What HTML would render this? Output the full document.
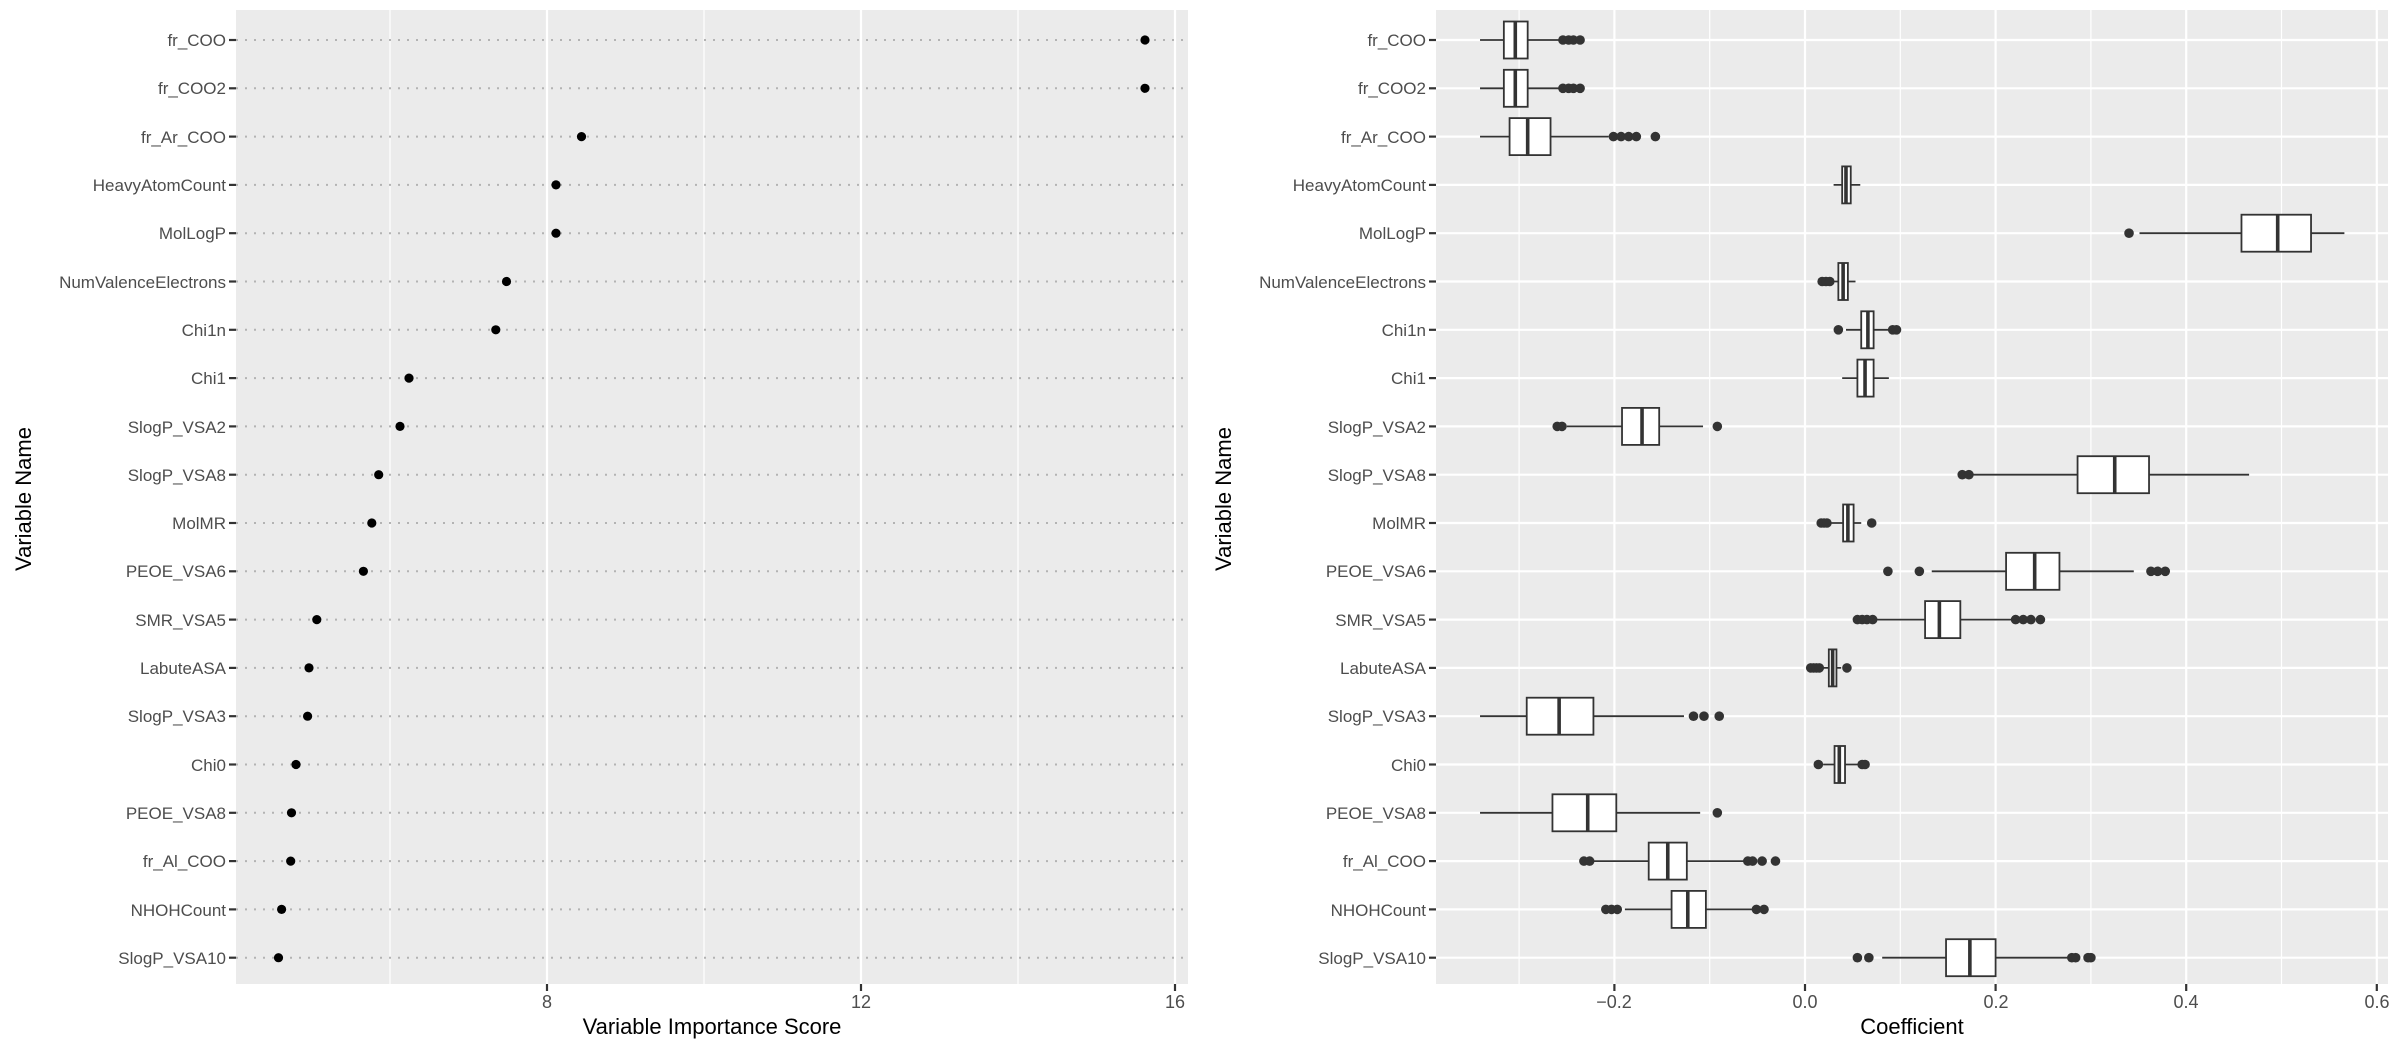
<!DOCTYPE html>
<html><head><meta charset="utf-8"><style>
html,body{margin:0;padding:0;background:#fff}
svg{display:block}
text{font-family:"Liberation Sans",sans-serif}
.yl{font-size:17px;fill:#4d4d4d;text-anchor:end}
.xl{font-size:18px;fill:#4d4d4d;text-anchor:middle}
.tt{font-size:22px;fill:#000;text-anchor:middle}
</style></head><body>
<svg id="s" width="2400" height="1050" xmlns="http://www.w3.org/2000/svg">
<rect x="236" y="10" width="952" height="974" fill="#ebebeb"/>
<rect x="1436" y="10" width="952" height="974" fill="#ebebeb"/>
<g id="g"></g>
<g class="yl">
<text x="226" y="46">fr_COO</text>
<text x="226" y="94">fr_COO2</text>
<text x="226" y="143">fr_Ar_COO</text>
<text x="226" y="191">HeavyAtomCount</text>
<text x="226" y="239">MolLogP</text>
<text x="226" y="288">NumValenceElectrons</text>
<text x="226" y="336">Chi1n</text>
<text x="226" y="384">Chi1</text>
<text x="226" y="433">SlogP_VSA2</text>
<text x="226" y="481">SlogP_VSA8</text>
<text x="226" y="529">MolMR</text>
<text x="226" y="577">PEOE_VSA6</text>
<text x="226" y="626">SMR_VSA5</text>
<text x="226" y="674">LabuteASA</text>
<text x="226" y="722">SlogP_VSA3</text>
<text x="226" y="771">Chi0</text>
<text x="226" y="819">PEOE_VSA8</text>
<text x="226" y="867">fr_Al_COO</text>
<text x="226" y="916">NHOHCount</text>
<text x="226" y="964">SlogP_VSA10</text>
</g>
<g class="yl">
<text x="1426" y="46">fr_COO</text>
<text x="1426" y="94">fr_COO2</text>
<text x="1426" y="143">fr_Ar_COO</text>
<text x="1426" y="191">HeavyAtomCount</text>
<text x="1426" y="239">MolLogP</text>
<text x="1426" y="288">NumValenceElectrons</text>
<text x="1426" y="336">Chi1n</text>
<text x="1426" y="384">Chi1</text>
<text x="1426" y="433">SlogP_VSA2</text>
<text x="1426" y="481">SlogP_VSA8</text>
<text x="1426" y="529">MolMR</text>
<text x="1426" y="577">PEOE_VSA6</text>
<text x="1426" y="626">SMR_VSA5</text>
<text x="1426" y="674">LabuteASA</text>
<text x="1426" y="722">SlogP_VSA3</text>
<text x="1426" y="771">Chi0</text>
<text x="1426" y="819">PEOE_VSA8</text>
<text x="1426" y="867">fr_Al_COO</text>
<text x="1426" y="916">NHOHCount</text>
<text x="1426" y="964">SlogP_VSA10</text>
</g>
<g class="xl">
<text x="547" y="1008">8</text>
<text x="861" y="1008">12</text>
<text x="1175" y="1008">16</text>
<text x="1614" y="1008">−0.2</text>
<text x="1805" y="1008">0.0</text>
<text x="1996" y="1008">0.2</text>
<text x="2186" y="1008">0.4</text>
<text x="2377" y="1008">0.6</text>
</g>
<text class="tt" x="712" y="1034">Variable Importance Score</text>
<text class="tt" x="1912" y="1034">Coefficient</text>
<text class="tt" transform="translate(31,499) rotate(-90)">Variable Name</text>
<text class="tt" transform="translate(1231,499) rotate(-90)">Variable Name</text>
</svg>
<script>
var g=document.getElementById('g'),h='';
function ry(i){return 40+i*48.3;}
[390,704,1018].forEach(function(x){h+='<line x1="'+x+'" x2="'+x+'" y1="10" y2="984" stroke="#fff" stroke-width="1.2"/>';});
[547,861,1175].forEach(function(x){h+='<line x1="'+x+'" x2="'+x+'" y1="10" y2="984" stroke="#fff" stroke-width="2.2"/>';h+='<line x1="'+x+'" x2="'+x+'" y1="984" y2="991" stroke="#333" stroke-width="2.2"/>';});
var lv=[1145,1145,581.5,556,556,506.5,495.8,409,400,378.7,371.8,363.4,316.8,309,307.6,296,291.5,290.7,281.6,278.5];
for(var i=0;i<20;i++){var y=ry(i);
h+='<line x1="236" x2="1188" y1="'+y+'" y2="'+y+'" stroke="#b3b3b3" stroke-width="2" stroke-dasharray="2,7"/>';
h+='<line x1="229" x2="236" y1="'+y+'" y2="'+y+'" stroke="#333" stroke-width="2.2"/>';
h+='<circle cx="'+lv[i]+'" cy="'+y+'" r="4.6" fill="#000"/>';}
function X(v){return 1805+v*953;}
[-0.3,-0.1,0.1,0.3,0.5].forEach(function(v){var x=X(v);h+='<line x1="'+x+'" x2="'+x+'" y1="10" y2="984" stroke="#fff" stroke-width="1.2"/>';});
[-0.2,0,0.2,0.4,0.6].forEach(function(v){var x=X(v);h+='<line x1="'+x+'" x2="'+x+'" y1="10" y2="984" stroke="#fff" stroke-width="2.2"/>';h+='<line x1="'+x+'" x2="'+x+'" y1="984" y2="991" stroke="#333" stroke-width="2.2"/>';});
for(var i=0;i<20;i++){var y=ry(i);h+='<line x1="1436" x2="2388" y1="'+y+'" y2="'+y+'" stroke="#fff" stroke-width="2.2"/>';h+='<line x1="1429" x2="1436" y1="'+y+'" y2="'+y+'" stroke="#333" stroke-width="2.2"/>';}
var B=[
[-0.341,-0.316,-0.304,-0.291,-0.258,[-0.254,-0.248,-0.243,-0.236]],
[-0.341,-0.316,-0.304,-0.291,-0.258,[-0.254,-0.248,-0.243,-0.236]],
[-0.341,-0.310,-0.291,-0.267,-0.206,[-0.201,-0.193,-0.185,-0.177,-0.157]],
[0.030,0.039,0.043,0.048,0.058,[]],
[0.351,0.458,0.496,0.531,0.566,[0.340]],
[0.027,0.035,0.040,0.045,0.053,[0.018,0.022,0.026]],
[0.043,0.059,0.066,0.072,0.088,[0.035,0.092,0.096]],
[0.039,0.055,0.063,0.072,0.088,[]],
[-0.250,-0.192,-0.171,-0.153,-0.107,[-0.260,-0.255,-0.092]],
[0.176,0.286,0.325,0.361,0.466,[0.165,0.172]],
[0.027,0.040,0.045,0.051,0.059,[0.017,0.020,0.023,0.070]],
[0.133,0.211,0.241,0.267,0.345,[0.087,0.120,0.363,0.370,0.378]],
[0.071,0.126,0.141,0.163,0.219,[0.055,0.060,0.065,0.071,0.221,0.229,0.237,0.247]],
[0.015,0.025,0.029,0.033,0.038,[0.006,0.009,0.012,0.015,0.044]],
[-0.341,-0.292,-0.258,-0.222,-0.127,[-0.117,-0.106,-0.090]],
[0.019,0.031,0.036,0.042,0.058,[0.014,0.060,0.063]],
[-0.341,-0.265,-0.228,-0.198,-0.110,[-0.092]],
[-0.222,-0.164,-0.144,-0.124,-0.063,[-0.232,-0.226,-0.060,-0.055,-0.045,-0.031]],
[-0.189,-0.140,-0.123,-0.104,-0.055,[-0.209,-0.203,-0.197,-0.051,-0.043]],
[0.081,0.148,0.173,0.200,0.277,[0.055,0.067,0.280,0.284,0.297,0.300]]];
for(var i=0;i<20;i++){var y=ry(i),b=B[i];
h+='<line x1="'+X(b[0])+'" x2="'+X(b[4])+'" y1="'+y+'" y2="'+y+'" stroke="#333" stroke-width="1.8"/>';
h+='<rect x="'+X(b[1])+'" y="'+(y-18.5)+'" width="'+(X(b[3])-X(b[1]))+'" height="37" fill="#fff" stroke="#333" stroke-width="1.8"/>';
h+='<line x1="'+X(b[2])+'" x2="'+X(b[2])+'" y1="'+(y-18.5)+'" y2="'+(y+18.5)+'" stroke="#333" stroke-width="3.6"/>';
b[5].forEach(function(v){h+='<circle cx="'+X(v)+'" cy="'+y+'" r="4.8" fill="#333"/>';});}
g.innerHTML=h;
</script>
</body></html>
